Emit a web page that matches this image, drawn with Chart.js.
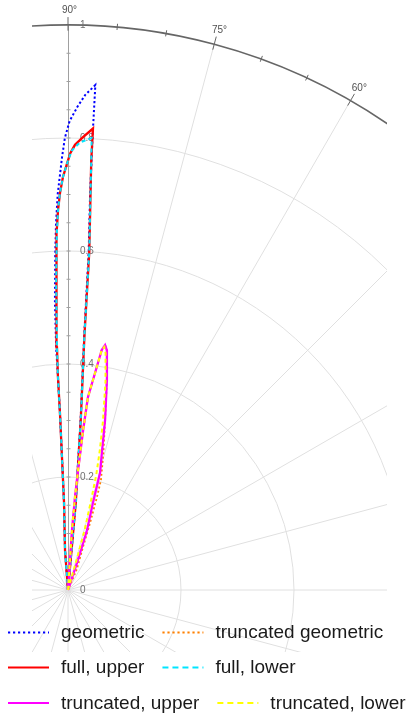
<!DOCTYPE html>
<html lang="en">
<head>
    <meta charset="UTF-8">
    <title>Polar plot</title>
    <script src="https://cdn.jsdelivr.net/npm/chart.js@4"></script>
    <style>
      body { margin: 0; background: #fff; }
    </style>
</head>
<body>
      <canvas id="myChart" width="411" height="714"></canvas>

      <script>
        // polar data: angle in degrees, radius
        const geoTheta  = [93.5, 94.3, 92.6, 92.6, 92.7, 92.8, 92.6, 92.2, 91.9, 91.5, 90.8, 90.4, 89.8, 88.9, 88.0, 86.9, 86.9, 86.8, 86.5, 86.35, 85.75, 84.95, 85.0]
        const geoR      = [0.00, 0.07, 0.155, 0.31, 0.38, 0.43, 0.51, 0.59, 0.645, 0.70, 0.765, 0.80, 0.83, 0.855, 0.877, 0.895, 0.80, 0.70, 0.60, 0.45, 0.30, 0.15, 0.00]

        const truncGeoTheta = [86.5, 86.2, 85.7, 85.2, 84.6, 84.1, 82.9, 82.0, 81.4, 80.8, 79.5, 77.7, 75.5, 73.3, 72.7, 71.8, 70.8, 67.0, 66.0]
        const truncGeoR     = [0.00, 0.106, 0.165, 0.213, 0.284, 0.343, 0.387, 0.429, 0.4386, 0.430, 0.378, 0.308, 0.25, 0.203, 0.172, 0.125, 0.081, 0.04, 0.00]

        const fullUpTheta = [93.5, 94.3, 92.6, 92.6, 92.7, 92.6, 92.2, 91.8, 91.5, 91.15, 90.7, 90.1, 89.7, 89.1, 88.1, 86.9, 86.9, 86.4, 86.3, 85.7, 84.9, 85.0]
        const fullUpR     = [0.00, 0.07, 0.155, 0.31, 0.38, 0.43, 0.545, 0.63, 0.673, 0.703, 0.731, 0.756, 0.773, 0.788, 0.802, 0.818, 0.76, 0.60, 0.45, 0.30, 0.155, 0.00]

        const fullLowTheta = [93.5, 94.3, 92.6, 92.6, 92.7, 92.6, 92.2, 91.8, 91.5, 91.15, 90.7, 90.1, 89.5, 88.5, 87.0, 86.9, 86.4, 86.3, 85.7, 84.9, 85.0]
        const fullLowR     = [0.00, 0.07, 0.155, 0.31, 0.38, 0.43, 0.545, 0.63, 0.673, 0.703, 0.731, 0.756, 0.778, 0.792, 0.801, 0.76, 0.60, 0.45, 0.30, 0.155, 0.00]

        const truncUpTheta = [86.5, 86.2, 85.7, 85.2, 84.6, 84.1, 82.9, 82.0, 81.4, 80.8, 79.5, 77.7, 76.3, 74.7, 74.0, 72.4, 71.6, 71.0]
        const truncUpR     = [0.00, 0.106, 0.165, 0.213, 0.284, 0.343, 0.387, 0.429, 0.4386, 0.430, 0.378, 0.308, 0.255, 0.215, 0.160, 0.111, 0.05, 0.00]

        const truncLowTheta = [86.5, 86.2, 85.7, 85.2, 84.6, 84.1, 82.9, 82.0, 81.5, 81.0, 79.8, 78.3, 77.2, 76.2, 75.5, 74.5, 74.0, 74.0]
        const truncLowR     = [0.00, 0.106, 0.165, 0.213, 0.284, 0.343, 0.387, 0.429, 0.435, 0.425, 0.375, 0.305, 0.255, 0.21, 0.16, 0.11, 0.05, 0.00]

        const seriesLabels = ['geometric', 'truncated geometric', 'full, upper', 'full, lower', 'truncated, upper', 'truncated, lower']
        const seriesColors = ['#0000ff', '#ff8000', '#ff0000', '#00e5ff', '#ff00ff', '#ffff00']

        const ringValues  = [0.2, 0.4, 0.6, 0.8]
        const rTickLabels = ['0', '0.2', '0.4', '0.6', '0.8', '1']
        const angleLabels = [90, 75, 60]

        function toXY(thetas, radii) {
          return thetas.map((t, i) => ({
            x: radii[i] * Math.cos(t * Math.PI / 180),
            y: radii[i] * Math.sin(t * Math.PI / 180)
          }))
        }

        const styles = [
          { width: 2, dash: [2.2, 2.3], legendDash: [2.2, 2.8] },
          { width: 1.8, dash: [2, 2.3], legendDash: [2.2, 2.8] },
          { width: 2.3, dash: [], legendDash: [] },
          { width: 2, dash: [4, 3], legendDash: [6, 4] },
          { width: 2.3, dash: [], legendDash: [] },
          { width: 2, dash: [4, 3], legendDash: [6, 4] }
        ]

        const allData = [
          toXY(geoTheta, geoR),
          toXY(truncGeoTheta, truncGeoR),
          toXY(fullUpTheta, fullUpR),
          toXY(fullLowTheta, fullLowR),
          toXY(truncUpTheta, truncUpR),
          toXY(truncLowTheta, truncLowR)
        ]

        const datasets = allData.map((d, i) => ({
          label: seriesLabels[i],
          data: d,
          showLine: true,
          borderColor: seriesColors[i],
          backgroundColor: seriesColors[i],
          borderWidth: styles[i].width,
          borderDash: styles[i].dash,
          pointRadius: 0,
          tension: 0,
          order: 10 - i
        }))

        const clipBox = { left: 32, top: 0, right: 387, bottom: 652 }

        // grid, axis and labels drawn under the curves
        const polarGrid = {
          id: 'polarGrid',
          beforeDatasetsDraw(chart) {
            const ctx = chart.ctx
            const sx = chart.scales.x, sy = chart.scales.y
            const cx = sx.getPixelForValue(0), cy = sy.getPixelForValue(0)
            const R = sx.getPixelForValue(1) - cx
            const rad = d => d * Math.PI / 180

            ctx.save()
            ctx.beginPath()
            ctx.rect(clipBox.left, clipBox.top, clipBox.right - clipBox.left, clipBox.bottom - clipBox.top)
            ctx.clip()

            ctx.strokeStyle = '#e0e0e0'
            ctx.lineWidth = 1
            ringValues.forEach(v => {
              ctx.beginPath()
              ctx.arc(cx, cy, v * R, 0, 2 * Math.PI)
              ctx.stroke()
            })
            for (let a = 0; a < 360; a += 15) {
              if (a === 90) continue
              ctx.beginPath()
              ctx.moveTo(cx, cy)
              ctx.lineTo(cx + R * Math.cos(rad(a)), cy - R * Math.sin(rad(a)))
              ctx.stroke()
            }

            // radial axis at 90 deg
            ctx.strokeStyle = '#a0a0a0'
            ctx.beginPath()
            ctx.moveTo(cx + 0.5, cy)
            ctx.lineTo(cx + 0.5, cy - R)
            ctx.stroke()
            for (let v = 0.05; v < 1; v += 0.05) {
              ctx.beginPath()
              ctx.moveTo(cx - 1.5, cy - v * R)
              ctx.lineTo(cx + 2.5, cy - v * R)
              ctx.stroke()
            }

            // outer arc
            ctx.strokeStyle = '#666666'
            ctx.lineWidth = 1.6
            ctx.beginPath()
            ctx.arc(cx, cy, R, -rad(100), -rad(50), false)
            ctx.stroke()
            ctx.lineWidth = 1
            for (let a = 55; a <= 95; a += 5) {
              const major = a % 15 === 0
              const r0 = major ? 0.99 : 0.995, r1 = major ? 1.014 : 1.006
              ctx.beginPath()
              ctx.moveTo(cx + r0 * R * Math.cos(rad(a)), cy - r0 * R * Math.sin(rad(a)))
              ctx.lineTo(cx + r1 * R * Math.cos(rad(a)), cy - r1 * R * Math.sin(rad(a)))
              ctx.stroke()
            }
            ctx.restore()

            ctx.save()
            ctx.font = '10px "Liberation Sans", Arial, sans-serif'
            ctx.fillStyle = '#707070'
            ctx.textAlign = 'left'
            ctx.textBaseline = 'middle'
            rTickLabels.forEach(t => {
              ctx.fillText(t, cx + 12, cy - parseFloat(t) * R)
            })
            ctx.fillStyle = '#505050'
            ctx.textAlign = 'center'
            angleLabels.forEach(a => {
              const r = 1.026 * R
              ctx.fillText(a + '\u00b0', cx + r * Math.cos(rad(a)) + 1.5, cy - r * Math.sin(rad(a)))
            })
            ctx.restore()
          }
        }

        // legend in two flowing columns under the plot
        const legendRows = [[0, 1], [2, 3], [4, 5]]
        const legendY = [632.5, 667.5, 703]
        const bottomLegend = {
          id: 'bottomLegend',
          afterDraw(chart) {
            const ctx = chart.ctx
            ctx.save()
            ctx.font = '19px "Liberation Sans", Arial, sans-serif'
            ctx.textBaseline = 'middle'
            legendRows.forEach((row, ri) => {
              let x = 8
              const y = legendY[ri]
              row.forEach(i => {
                ctx.strokeStyle = seriesColors[i]
                ctx.lineWidth = 2
                ctx.setLineDash(styles[i].legendDash)
                ctx.beginPath()
                ctx.moveTo(x, y)
                ctx.lineTo(x + 41, y)
                ctx.stroke()
                ctx.setLineDash([])
                ctx.fillStyle = '#1a1a1a'
                ctx.fillText(seriesLabels[i], x + 53, y + 0.5)
                x += 53 + ctx.measureText(seriesLabels[i]).width + 18
              })
            })
            ctx.restore()
          }
        }

        const ctx = document.getElementById('myChart')

        let grafico = new Chart(ctx, {
          type: 'scatter',
          data: { datasets: datasets },
          options: {
            responsive: false,
            animation: false,
            layout: { padding: { left: 32, right: 24, top: 25, bottom: 62 } },
            scales: {
              x: { type: 'linear', display: false, min: -36 / 565, max: 319 / 565 },
              y: { type: 'linear', display: false, min: -62 / 565, max: 1 }
            },
            plugins: {
              legend: { display: false },
              tooltip: { enabled: false }
            }
          },
          plugins: [polarGrid, bottomLegend]
        })
      </script>
</body>
</html>
